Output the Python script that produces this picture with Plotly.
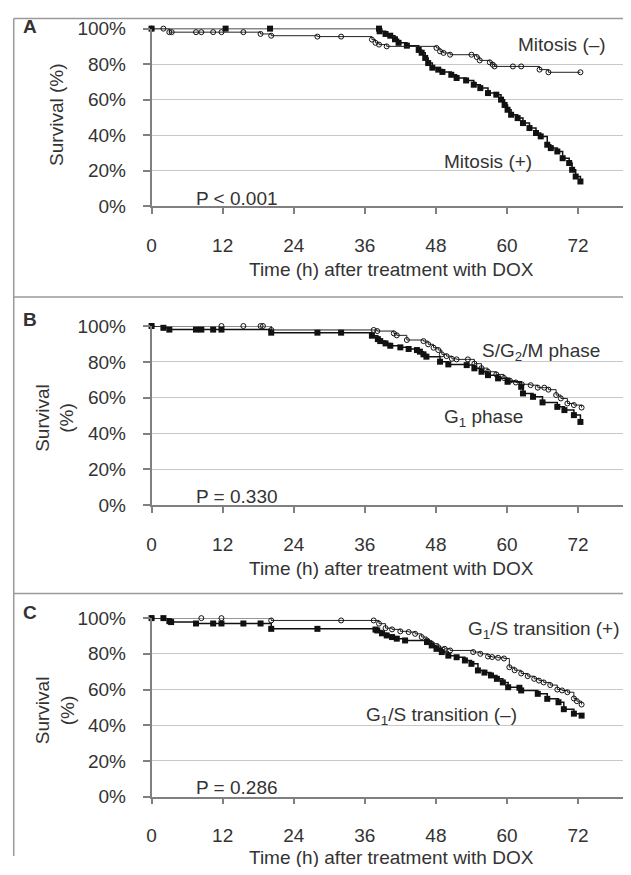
import plotly.graph_objects as go

# ---------------- data ----------------
a_pos_t = [0, 12.5, 20, 38.4, 38.5, 39.5, 40.3, 41.1, 41.7, 43.1, 45.1, 45.6, 46.2, 46.7, 47.4, 48.4, 49.1,
           50.6, 51.5, 53.1, 54.4, 55.5, 56.8, 58.2, 59.0, 59.6, 60.1, 60.7, 61.8, 62.7, 63.8, 64.9, 65.7,
           66.8, 67.4, 68.5, 69.4, 70.5, 71.0, 71.6, 72.4]
a_pos_s = [100, 100, 100, 100, 98.5, 97, 96, 94, 92, 90.4, 88, 86.4, 83.5, 80.6, 78, 76.9, 75.6,
           74, 72.2, 70.8, 68.4, 66.5, 63.7, 62.8, 60, 57, 54.3, 51.5, 49.6, 46.8, 44, 41.2, 39.3,
           34.6, 32.7, 30.8, 27, 24.3, 20.5, 16.7, 13.9]
a_neg_t = [0, 2, 3, 3.4, 7.5, 8.4, 10.4, 11.8, 15.5, 18.4, 20.2, 28, 32, 37.2, 37.8, 38.4, 39.7,
           48.1, 48.7, 49.3, 50.4, 54.0, 54.9, 55.4, 57.1, 57.6, 57.9, 61.0, 62.4, 65.5, 67.0, 72.4]
a_neg_s = [100, 100, 98, 98, 98, 98, 98, 98, 98, 97, 96, 95.5, 95.5, 93.8, 92, 91, 90,
           89.1, 87.2, 86.3, 85.3, 85.3, 84, 82.1, 81, 79.7, 78.7, 78.7, 78.7, 76.9, 75.4, 75.4]

b_g1_t = [0, 2, 3, 7.5, 8.4, 10.4, 11.8, 20.2, 28, 32, 37.2, 38.2, 38.6, 39.5, 40.3, 42.0, 43.4,
          44.8, 45.3, 45.9, 46.4, 48.7, 50.1, 53.2, 54.5, 55.7, 56.8, 58.5, 60.1, 62.4, 62.7, 64.4,
          66.0, 68.5, 69.7, 71.3, 72.4]
b_g1_s = [100, 99, 98, 98, 98, 98, 98, 96.3, 96.3, 96.3, 94.6, 92.7, 91.6, 90.3, 89, 88.1, 87.2,
          86.6, 85.7, 84.2, 82.9, 80.1, 78.6, 78.2, 76.4, 74.5, 72.6, 70.8, 68.9, 66.1, 62.4, 60.5,
          57.4, 54.9, 53.1, 50.3, 46.5]
b_sg2m_t = [0, 11.8, 15.5, 18.4, 18.8, 20.2, 37.5, 38.1, 40.9, 41.4, 43.1, 45.9, 46.7, 47.6, 48.4,
            49.0, 49.8, 50.7, 51.5, 53.4, 54.5, 55.7, 56.8, 58.2, 59.5, 60.5, 61.5, 62.5, 64.0, 65.2,
            66.3, 67.0, 68.3, 69.1, 70.2, 71.3, 72.6]
b_sg2m_s = [100, 100, 100, 100, 100, 97.8, 97.8, 97.2, 95.9, 94.8, 92.2, 91.6, 89.8, 87.9, 86.6,
            84.2, 83.2, 81.7, 81.4, 81.4, 79, 76.5, 74.5, 73, 71, 69.5, 68.5, 67.5, 67, 65.6,
            65.6, 64.5, 61.5, 59.6, 56.8, 55.9, 54.5]

c_pos_t = [0, 8.4, 11.8, 20.2, 32, 37.5, 38.4, 39.5, 40.6, 42.0, 43.4, 44.5, 45.6, 46.5, 47.3, 48.4,
           49.5, 50.4, 54.3, 55.5, 56.8, 57.5, 58.5, 59.5, 60.4, 61.3, 62.4, 63.5, 64.6, 65.4, 66.2,
           67.3, 68.5, 69.3, 70.2, 71.3, 71.8, 72.6]
c_pos_s = [100, 100, 100, 98.7, 98.7, 98.7, 96.9, 94.4, 93.7, 92.6, 92.2, 91.2, 89.4, 87.5, 85.7, 83.7,
           82.8, 81.9, 81, 80, 78.5, 78.2, 77.8, 77.4, 72.5, 70.8, 69, 67.5, 66, 65, 64,
           62.5, 60, 59.5, 58.5, 55, 53.5, 51.6]
c_neg_t = [0, 2, 3, 3.3, 7.5, 10.4, 11.8, 15.5, 18.4, 20.2, 28, 37.8, 38.1, 38.9, 39.7, 40.6, 41.4,
           42.8, 46.5, 47.3, 48.1, 49.0, 50.1, 51.5, 52.9, 54.0, 55.1, 56.2, 57.3, 58.3, 59.3, 60.2,
           62.1, 62.4, 65.2, 66.8, 68.7, 69.6, 71.3, 72.6]
c_neg_s = [100, 100, 98.3, 97.8, 97, 97, 97, 97, 97, 94, 94, 93.6, 93.1, 91.5, 90.3, 89.4, 88.5,
           87.5, 86.6, 84.7, 82.8, 81, 79, 78.1, 76.3, 74.4, 70.7, 69.5, 67.9, 66, 64, 61.3,
           61, 59.5, 57.6, 54.8, 52.9, 49, 46.5, 45.4]

x_ticks = [0, 12, 24, 36, 48, 60, 72]
y_ticks = [0, 20, 40, 60, 80, 100]
y_ticktext = ["0%", "20%", "40%", "60%", "80%", "100%"]

# ---------------- page geometry ----------------
OFF = 8
FW, FH = 631 - 2 * OFF, 875 - 2 * OFF
Y_SCALE, Y_SHIFT = 0.9742, 18.4   # measured page -> photo mapping in y
FONT = "Liberation Sans, Arial, sans-serif"
TXT = "#333333"
INK = "#111111"


def px(x):
    return (x - OFF) / FW


def py(y):
    fy = (y - Y_SHIFT) / Y_SCALE
    return 1 - fy / FH


X0_PX = 147.7
PX_PER_H = 5.972
X_END = (FW + OFF - X0_PX) / PX_PER_H

fig = go.Figure()

panels = [
    ("", "", 29, 206.3),
    ("2", "2", 326, 505),
    ("3", "3", 617.7, 796),
]

series = [
    (0, a_pos_t, a_pos_s, "filled"),
    (0, a_neg_t, a_neg_s, "open"),
    (1, b_g1_t, b_g1_s, "filled"),
    (1, b_sg2m_t, b_sg2m_s, "open"),
    (2, c_pos_t, c_pos_s, "open"),
    (2, c_neg_t, c_neg_s, "filled"),
]

for pi, t, s, kind in series:
    xs, ys = panels[pi][0], panels[pi][1]
    if kind == "filled":
        marker = dict(symbol="square", size=6, color=INK, line=dict(width=0))
        line = dict(color=INK, width=1.5, shape="hv")
    else:
        marker = dict(symbol="circle-open", size=5, color=INK, line=dict(width=1, color=INK))
        line = dict(color="#222222", width=1, shape="hv")
    fig.add_trace(go.Scatter(x=t, y=s, mode="lines+markers", marker=marker, line=line,
                             xaxis="x" + xs, yaxis="y" + ys, cliponaxis=False,
                             showlegend=False, hoverinfo="skip"))

layout = dict(width=FW, height=FH, margin=dict(l=0, r=0, t=0, b=0),
              paper_bgcolor="white", plot_bgcolor="white",
              font=dict(family=FONT, size=19, color=TXT), showlegend=False)

for i, (xs, ys, ytop, ybot) in enumerate(panels):
    layout["xaxis" + xs] = dict(
        domain=[px(X0_PX), 1.0], range=[0, X_END], anchor="y" + ys,
        tickvals=x_ticks, ticks="outside", ticklen=6, tickwidth=1.5, tickcolor="#808080",
        showline=True, linecolor="#808080", linewidth=1.5, showgrid=False, zeroline=False,
        tickfont=dict(size=19, color=TXT, family=FONT), ticklabelstandoff=15, fixedrange=True)
    layout["yaxis" + ys] = dict(
        domain=[py(ybot), py(ytop)], range=[0, 100], anchor="x" + xs,
        tickvals=y_ticks, ticktext=y_ticktext, ticks="outside", ticklen=7, tickwidth=1.5,
        tickcolor="#808080", showline=True, linecolor="#808080", linewidth=1.5,
        showgrid=True, gridcolor="#c8c8c8", gridwidth=1, zeroline=False,
        tickfont=dict(size=19, color=TXT, family=FONT), ticklabelstandoff=13, fixedrange=True)

fig.update_layout(**layout)

border = dict(color="#9a9a9a", width=1.5)
shapes = [
    dict(type="line", xref="paper", yref="paper", x0=0.0012, x1=1, y0=0.9994, y1=0.9994, line=border),
    dict(type="line", xref="paper", yref="paper", x0=0.0012, x1=1, y0=py(297), y1=py(297), line=border),
    dict(type="line", xref="paper", yref="paper", x0=0.0012, x1=1, y0=py(593), y1=py(593), line=border),
    dict(type="line", xref="paper", yref="paper", x0=0.0012, x1=0.0012, y0=0, y1=0.9994, line=border),
]
fig.update_layout(shapes=shapes)

ann = []
for letter, ycen in [("A", 26.5), ("B", 319), ("C", 612)]:
    ann.append(dict(text="<b>" + letter + "</b>", x=px(25), y=py(ycen), xref="paper", yref="paper",
                    showarrow=False, xanchor="center", yanchor="middle", font=dict(size=19, color=TXT)))
for ycen in [270, 568, 857]:
    ann.append(dict(text="Time (h) after treatment with DOX", x=px(390), y=py(ycen), xref="paper",
                    yref="paper", showarrow=False, xanchor="center", yanchor="middle",
                    font=dict(size=19, color=TXT)))
ann.append(dict(text="Survival (%)", x=px(52), y=py(115.5), xref="paper", yref="paper",
                textangle=-90, showarrow=False, xanchor="center", yanchor="middle",
                font=dict(size=19, color=TXT)))
for ycen in [418, 710]:
    ann.append(dict(text="Survival<br>(%)", x=px(50), y=py(ycen), xref="paper", yref="paper",
                    textangle=-90, showarrow=False, xanchor="center", yanchor="middle",
                    font=dict(size=19, color=TXT)))

labels = [
    ("", "", "Mitosis (\u2013)", 61.6, 91),
    ("", "", "Mitosis (+)", 49, 25),
    ("", "", "P &lt; 0.001", 7.1, 4.5),
    ("2", "2", "S/G<sub>2</sub>/M phase", 55.4, 85.5),
    ("2", "2", "G<sub>1</sub> phase", 49, 48.6),
    ("2", "2", "P = 0.330", 7.1, 5),
    ("3", "3", "G<sub>1</sub>/S transition (+)", 53.0, 93.1),
    ("3", "3", "G<sub>1</sub>/S transition (\u2013)", 35.9, 45.4),
    ("3", "3", "P = 0.286", 7.1, 5),
]
for xs, ys, txt, xv, yv in labels:
    ann.append(dict(text=txt, x=xv, y=yv, xref="x" + xs, yref="y" + ys, showarrow=False,
                    xanchor="left", yanchor="middle", font=dict(size=19, color=TXT)))
fig.update_layout(annotations=ann)

fig.write_html("out.html")
